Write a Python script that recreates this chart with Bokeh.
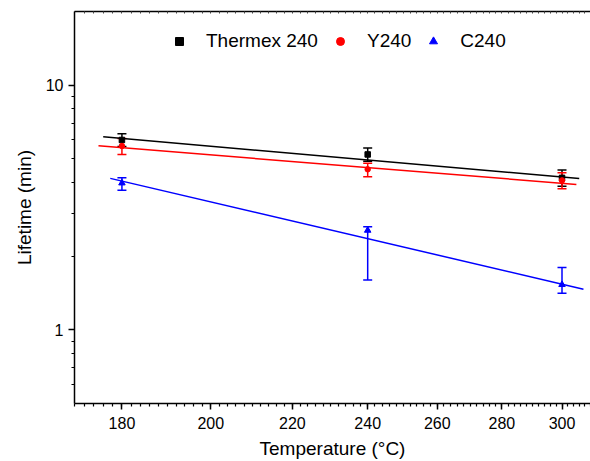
import numpy as np
from bokeh.plotting import figure
from bokeh.models import (ColumnDataSource, FixedTicker, CustomJSTickFormatter, LinearAxis,
                          Whisker, TeeHead, Legend, LegendItem, Range1d)
from bokeh.embed import file_html
from bokeh.resources import INLINE

# ---- data ----
temperature = [180, 240, 300]

thermex = [5.97, 5.21, 4.18]
thermex_upper = [6.33, 5.53, 4.50]
thermex_lower = [5.61, 4.89, 3.86]

y240 = [5.64, 4.53, 4.08]
y240_upper = [6.06, 4.79, 4.39]
y240_lower = [5.21, 4.22, 3.77]

c240 = [3.98, 2.55, 1.53]
c240_upper = [4.18, 2.64, 1.80]
c240_lower = [3.72, 1.60, 1.41]

# fitted (Arrhenius) lines: end points
fit_thermex_t = [176, 306]
fit_thermex_y = [6.15, 4.15]
fit_y240_t = [175, 305]
fit_y240_y = [5.65, 3.93]
fit_c240_t = [177.5, 307.5]
fit_c240_y = [4.16, 1.466]

x_major = [180, 200, 220, 240, 260, 280, 300]
x_minor = list(range(170, 311, 2))
x_limits = [170, 310]
y_limits = [0.5, 20]
y_major = [1, 10]
y_minor = [0.6, 0.7, 0.8, 0.9, 2, 3, 4, 5, 6, 7, 8, 9]

series_names = ["Thermex 240", "Y240", "C240"]
colors = ["black", "#ff0000", "#0000ff"]


def recip(t):
    # reciprocal absolute temperature scale (Arrhenius axis)
    return -1000.0 / (np.asarray(t, dtype=float) + 273.15)


FONT = "Liberation Sans"

p = figure(width=590, height=461, output_backend="svg", toolbar_location=None,
           y_axis_type="log",
           x_range=Range1d(*recip(x_limits)), y_range=Range1d(*y_limits),
           min_border_left=74, min_border_right=0, min_border_top=11, min_border_bottom=58)
p.outline_line_color = None
p.grid.visible = False
p.background_fill_color = "white"
p.border_fill_color = "white"

# x axis (bottom)
xa = p.xaxis[0]
xa.ticker = FixedTicker(ticks=list(recip(x_major)), minor_ticks=list(recip(x_minor)))
xa.formatter = CustomJSTickFormatter(code="return Math.round(-1000/tick - 273.15).toFixed(0);")
xa.axis_label = "Temperature (°C)"

# y axis (left)
ya = p.yaxis[0]
ya.ticker = FixedTicker(ticks=y_major, minor_ticks=y_minor)
ya.formatter = CustomJSTickFormatter(code="return String(Math.round(tick));")
ya.axis_label = "Lifetime (min)"

for ax in (xa, ya):
    ax.axis_line_width = 1.5
    ax.axis_line_color = "black"
    ax.major_tick_line_width = 1.5
    ax.minor_tick_line_width = 1.2
    ax.major_tick_out = 6
    ax.major_tick_in = 0
    ax.minor_tick_out = 3
    ax.minor_tick_in = 0
    ax.major_label_text_font = FONT
    ax.major_label_text_font_size = "16px"
    ax.major_label_text_color = "black"
    ax.axis_label_text_font = FONT
    ax.axis_label_text_font_size = "19px"
    ax.axis_label_text_font_style = "normal"
    ax.axis_label_text_color = "black"

xa.major_label_standoff = 7
xa.axis_label_standoff = 6
ya.major_label_standoff = 5
ya.axis_label_standoff = 8

# top axis: line with small inward ticks, no labels
top = LinearAxis(ticker=FixedTicker(ticks=[], minor_ticks=list(recip(x_minor))),
                 major_tick_out=0, major_tick_in=0, minor_tick_out=0, minor_tick_in=2,
                 axis_line_width=1.5, minor_tick_line_width=1, minor_tick_line_color="#444444")
p.add_layout(top, "above")

# fit lines
fits = [(fit_thermex_t, fit_thermex_y), (fit_y240_t, fit_y240_y), (fit_c240_t, fit_c240_y)]
for (ft, fy), c in zip(fits, colors):
    p.line(recip(ft), fy, line_color=c, line_width=1.5)

# data with error bars
series = [(thermex, thermex_upper, thermex_lower, "square", 5.5),
          (y240, y240_upper, y240_lower, "circle", 5.5),
          (c240, c240_upper, c240_lower, "triangle", 6.5)]
items = []
for (vals, up, lo, marker, size), c, name in zip(series, colors, series_names):
    src = ColumnDataSource(dict(x=recip(temperature), y=vals, upper=up, lower=lo))
    w = Whisker(source=src, base="x", upper="upper", lower="lower", dimension="height",
                line_color=c, line_width=1.5,
                upper_head=TeeHead(size=9, line_color=c, line_width=1.5),
                lower_head=TeeHead(size=9, line_color=c, line_width=1.5))
    p.add_layout(w)
    r = p.scatter("x", "y", source=src, marker=marker, size=size, fill_color=c, line_color=c)
    items.append(LegendItem(label=name, renderers=[r]))

legend = Legend(items=items, orientation="horizontal", location=(95, 351),
                label_text_font=FONT, label_text_font_size="19px", label_text_color="black",
                glyph_width=20, glyph_height=20, label_standoff=17, spacing=12,
                padding=0, margin=0, border_line_color=None, background_fill_alpha=0)
p.add_layout(legend)

open("out.html", "w").write(file_html(p, INLINE))
